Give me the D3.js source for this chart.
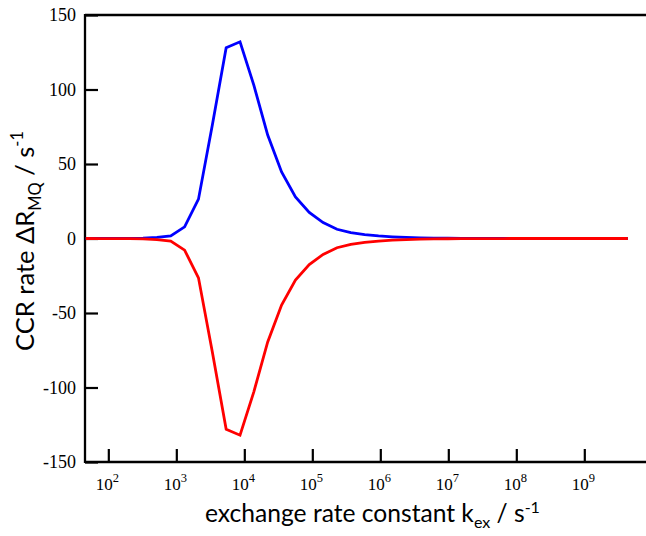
<!DOCTYPE html>
<html>
<head>
<meta charset="utf-8">
<script src="https://cdn.jsdelivr.net/npm/d3@7"></script>
<style>
  html, body { margin: 0; padding: 0; background: #fff; }
  svg { display: block; }
  .serif { font-family: "Liberation Serif", Tinos, "Times New Roman", "DejaVu Serif", "Noto Serif", serif; }
</style>
</head>
<body>
<svg id="chart" width="646" height="536"></svg>
<script>
// exchange rate constants k_ex (s^-1) of the computed points
const kex = [46.5, 79.4, 127, 203, 324, 519, 828, 1324, 2118, 3381, 5408, 8650,
  13800, 22080, 35320, 56490, 90160, 144200, 230700, 368100, 588800, 941900,
  1.503e6, 2.404e6, 3.846e6, 6.152e6, 9.82e6, 1.57e7, 2.51e7, 4.01e7, 6.41e7,
  1.03e8, 1.64e8, 2.62e8, 4.19e8, 6.70e8, 1.07e9, 1.71e9, 2.73e9, 4.37e9];
// CCR rate ΔR_MQ (s^-1), blue curve
const blueRate = [0, 0.02, 0.05, 0.12, 0.3, 0.7, 1.8, 7.8, 26.4, 76, 128, 132,
  102.9, 69.4, 44.7, 27.9, 17.5, 10.7, 6.2, 4.0, 2.6, 1.7, 1.1, 0.7, 0.45, 0.3,
  0.18, 0.1, 0.06, 0.03, 0.02, 0.01, 0, 0, 0, 0, 0, 0, 0, 0];
// CCR rate ΔR_MQ (s^-1), red curve
const redRate = [0, -0.02, -0.05, -0.12, -0.3, -0.7, -1.8, -7.8, -26.4, -76, -128, -132,
  -102.9, -69.4, -44.7, -27.9, -17.5, -10.7, -6.2, -4.0, -2.6, -1.7, -1.1, -0.7, -0.45, -0.3,
  -0.18, -0.1, -0.06, -0.03, -0.02, -0.01, 0, 0, 0, 0, 0, 0, 0, 0];
const xTickExps = [2, 3, 4, 5, 6, 7, 8, 9];
const yTicks = [150, 100, 50, 0, -50, -100, -150];
const xDomain = [45.4, 1e10];
const yDomain = [-150, 150];

(function draw() {
  const W = 646;
  const padL = 85, padT = 15, baseY = 462;
  const svg = d3.select("#chart");

  const x = d3.scaleLog().domain(xDomain).range([padL, 652.3]);
  const y = d3.scaleLinear().domain(yDomain).range([baseY, padT]);

  const axisColor = "#000";
  const axisW = 2.3;

  // frame: left, top and bottom lines (top/bottom run to the right edge)
  svg.append("line").attr("x1", padL).attr("x2", padL).attr("y1", padT - 1).attr("y2", baseY + 1)
    .attr("stroke", axisColor).attr("stroke-width", axisW);
  svg.append("line").attr("x1", padL).attr("x2", W).attr("y1", padT).attr("y2", padT)
    .attr("stroke", axisColor).attr("stroke-width", axisW);
  svg.append("line").attr("x1", padL).attr("x2", W).attr("y1", baseY).attr("y2", baseY)
    .attr("stroke", axisColor).attr("stroke-width", axisW);

  // y axis: inward ticks, labels outside
  const yAxis = d3.axisRight(y).tickValues(yTicks).tickSize(13).tickFormat("");
  const yg = svg.append("g").attr("transform", `translate(${padL},0)`).call(yAxis);
  yg.select(".domain").remove();
  yg.selectAll(".tick text").remove();
  yg.selectAll(".tick line").attr("stroke", axisColor).attr("stroke-width", 2.2);

  svg.append("g").selectAll("text").data(yTicks).join("text")
    .attr("class", "serif")
    .attr("x", padL - 9).attr("y", d => y(d)).attr("dy", "0.35em")
    .attr("text-anchor", "end")
    .attr("fill", "#000")
    .attr("font-size", 18)
    .text(d => d < 0 ? "-" + Math.abs(d) : String(d));

  // x axis: inward ticks, labels below
  const xTickVals = xTickExps.map(e => Math.pow(10, e));
  const xAxis = d3.axisTop(x).tickValues(xTickVals).tickSize(13).tickFormat("");
  const xg = svg.append("g").attr("transform", `translate(0,${baseY})`).call(xAxis);
  xg.select(".domain").remove();
  xg.selectAll(".tick text").remove();
  xg.selectAll(".tick line").attr("stroke", axisColor).attr("stroke-width", 2.2);

  svg.append("g").selectAll("text").data(xTickExps).join("text")
    .attr("class", "serif")
    .attr("x", d => x(Math.pow(10, d)) - 1).attr("y", baseY + 28)
    .attr("text-anchor", "middle")
    .attr("fill", "#000")
    .attr("font-size", 17)
    .each(function(d) {
      const t = d3.select(this);
      t.append("tspan").text("10");
      t.append("tspan").attr("dy", -8.5).attr("font-size", 12.5).text(d);
    });

  // curves
  const line = d3.line().x(d => x(d[0])).y(d => y(d[1]));
  svg.append("path").datum(kex.map((k, i) => [k, blueRate[i]]))
    .attr("d", line).attr("fill", "none").attr("stroke", "#0000ff")
    .attr("stroke-width", 2.8).attr("stroke-linejoin", "miter");
  svg.append("path").datum(kex.map((k, i) => [k, redRate[i]]))
    .attr("d", line).attr("fill", "none").attr("stroke", "#ff0000")
    .attr("stroke-width", 2.8).attr("stroke-linejoin", "miter");

  // x title
  const sans = "Lato, 'Open Sans', sans-serif";
  const xt = svg.append("text").attr("x", 205).attr("y", 521.7)
    .attr("text-anchor", "start").attr("fill", "#000")
    .style("font-family", sans).style("font-size", "23px");
  xt.append("tspan").text("exchange rate constant k");
  xt.append("tspan").attr("class", "small").attr("dy", 6).style("font-size", "15px").text("ex");
  xt.append("tspan").attr("dy", -6).text(" / s");
  xt.append("tspan").attr("class", "small").attr("dy", -9).style("font-size", "15px").text("-1");
  {
    const w = xt.node().getBBox().width;
    const s = 335 / w;
    xt.style("font-size", (23 * s) + "px");
    xt.selectAll("tspan.small").style("font-size", (15 * s) + "px");
  }

  // y title, centered on the plot height
  const yt = svg.append("text")
    .attr("transform", "translate(34,241) rotate(-90)")
    .attr("text-anchor", "middle").attr("fill", "#000")
    .style("font-family", sans).style("font-size", "28px");
  yt.append("tspan").text("CCR rate  \u0394R");
  yt.append("tspan").attr("class", "small").attr("dy", 7).style("font-size", "18px").text("MQ");
  yt.append("tspan").attr("dy", -7).text(" / s");
  yt.append("tspan").attr("class", "small").attr("dy", -11).style("font-size", "18px").text("-1");
  {
    const w = yt.node().getBBox().width;
    const s = 220 / w;
    yt.style("font-size", (28 * s) + "px");
    yt.selectAll("tspan.small").style("font-size", (18 * s) + "px");
  }
})();
</script>
</body>
</html>
